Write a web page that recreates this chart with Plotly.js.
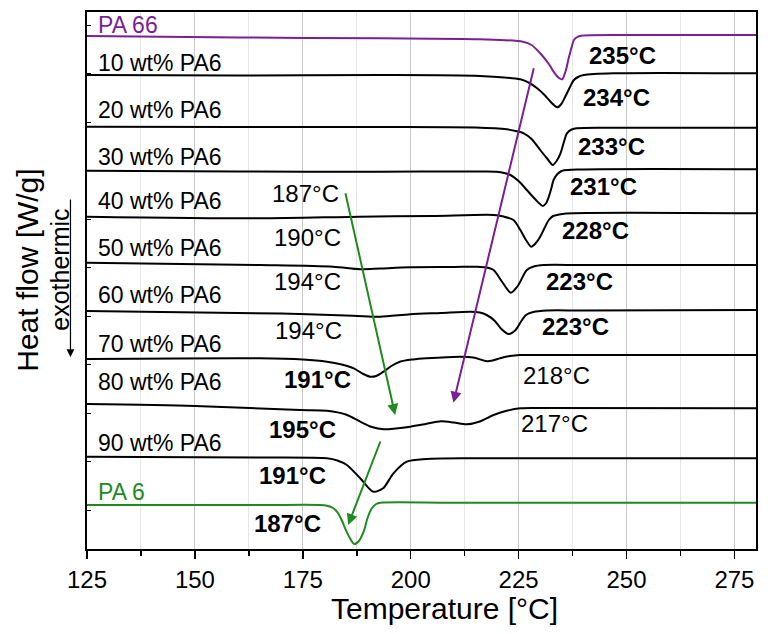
<!DOCTYPE html>
<html>
<head>
<meta charset="utf-8">
<script src="https://cdn.plot.ly/plotly-3.0.1.min.js"></script>
<style>
html, body { margin: 0; padding: 0; background: #fff; }
#dsc { width: 776px; height: 634px; }
</style>
</head>
<body>
<div id="dsc"></div>
<script>
// DSC heating curves, stacked (heat flow in arbitrary shifted units, endo down)
const curveNames = ['PA 66', '10 wt% PA6', '20 wt% PA6', '30 wt% PA6', '40 wt% PA6', '50 wt% PA6',
    '60 wt% PA6', '70 wt% PA6', '80 wt% PA6', '90 wt% PA6', 'PA 6'];

const t66 = [125, 160, 193, 216, 226, 228, 230, 232, 233.1, 234.2, 235.1, 235.9, 236.6, 237.3, 237.8, 238.6, 239.5, 250, 280];
const hf66 = [513, 511.5, 510.7, 509.7, 507.3, 504, 495.7, 485, 477.3, 471.5, 469.7, 478, 490.7, 502, 509, 512, 513.3, 514, 514];

const t10 = [125, 160, 193, 216, 225.4, 227.5, 229.3, 231, 232.4, 233.3, 234.0, 234.9, 235.8, 236.8, 237.8, 239, 240.1, 247, 280];
const hf10 = [474, 473.5, 474, 473, 469.7, 466, 460.7, 454, 447.3, 443.5, 441.7, 445, 452.3, 461, 469, 472.5, 474, 475.7, 475.7];

const t20 = [125, 160, 193, 215, 222.3, 224.3, 226.2, 228, 230, 231.7, 232.9, 233.8, 234.7, 235.5, 236.2, 237.3, 238.5, 245, 280];
const hf20 = [422.3, 422, 422, 421.5, 419.7, 418, 415.7, 410, 399, 390, 384, 388, 395.7, 407, 415.7, 419.5, 420.7, 421.3, 421.3];

const t30 = [125, 160, 193, 215, 220, 221.7, 223.1, 225, 226.9, 228.8, 230.6, 231.4, 232, 232.6, 233.1, 234, 235.1, 240, 280];
const hf30 = [378.3, 377.5, 377.3, 377.5, 377.3, 376, 374, 368, 359, 350, 343, 346, 352.3, 361, 369, 375, 378.3, 379.5, 379.7];

const t40 = [125, 165, 188, 205, 219.2, 221.5, 223.8, 225.4, 226.7, 227.9, 229, 230, 231, 232, 233, 233.9, 236, 280];
const hf40 = [332.3, 330.7, 332.3, 333, 334, 332.5, 329, 319, 309, 302.3, 306, 312.3, 321, 329, 333, 334, 335.5, 335.7];

const t50 = [125, 165, 182, 188.3, 193, 199.9, 210, 215.4, 217.5, 219.2, 221.2, 223.2, 224.8, 226.9, 228.5, 230.8, 240, 280];
const hf50 = [286.3, 284, 282.3, 279.7, 280.5, 281.7, 282, 282.3, 281.5, 279, 267, 256.3, 263, 279, 282.5, 284, 284, 284];

const t60 = [125, 170, 186.7, 192.9, 199.9, 207, 213.8, 216, 217.6, 219.5, 221, 222.7, 224.3, 225.5, 226.7, 228.4, 231.6, 240, 280];
const hf60 = [238, 235.5, 233.3, 232.3, 234.7, 236, 237.3, 236.5, 234, 228, 220, 215, 219, 227, 234, 237, 238.5, 238.5, 239];

const t70 = [125, 165, 175, 180.6, 184, 186.8, 189, 190.6, 192, 193.7, 195.5, 197.5, 200.5, 203.7, 211.4, 214.5, 216.5, 217.7, 219, 220.7, 223, 225.3, 230, 280];
const hf70 = [190, 190.7, 189.5, 187.3, 184.5, 180.7, 175, 172.3, 173, 177.3, 183, 187.3, 189.5, 190.7, 192.3, 191.5, 189, 187.8, 188.5, 190.7, 193, 194, 194, 194];

const t80 = [125, 150, 174.4, 180.6, 185, 188.3, 191, 193.7, 196.5, 199.9, 203.5, 207, 210, 213, 216, 219.2, 222, 225.4, 230, 280];
const hf80 = [145, 143, 139, 138.3, 134.5, 127.3, 122, 119.7, 120.5, 122.3, 125, 127.7, 126.5, 124.7, 127.5, 134, 138, 140.7, 141, 140.7];

const t90 = [125, 165, 180.6, 183, 185.2, 188.3, 191.3, 193.6, 196, 199.1, 203.7, 215, 280];
const hf90 = [92.3, 91.5, 90.7, 88.5, 84, 70.7, 57.3, 60.7, 75.7, 87.3, 90, 90.7, 90.7];

const tPA6 = [125, 165, 179, 180.6, 182, 182.9, 184, 184.8, 185.9, 186.9, 188, 189.1, 190, 191, 192, 193, 210, 280];
const hfPA6 = [44, 44, 44, 43.2, 41, 37.3, 29, 20.7, 11, 5, 8, 17.3, 31, 40.7, 45, 46.3, 46.3, 46.3];

const temps = [t66, t10, t20, t30, t40, t50, t60, t70, t80, t90, tPA6];
const flows = [hf66, hf10, hf20, hf30, hf40, hf50, hf60, hf70, hf80, hf90, hfPA6];

// peak temperature labels
const peakText = ['235°C', '234°C', '233°C', '231°C', '228°C', '223°C', '223°C', '218°C', '217°C',
    '187°C', '190°C', '194°C', '194°C', '191°C', '195°C', '191°C', '187°C'];
const peakBold = [true, true, true, true, true, true, true, false, false,
    false, false, false, false, true, true, true, true];
const peakLabelT = [249.1, 247.6, 246.6, 244.6, 242.7, 239.2, 238.1, 233.7, 233.2,
    175.7, 176.2, 176.1, 176.4, 178.4, 174.9, 172.7, 171.5];
const peakLabelHF = [494, 451.5, 403, 363, 319, 268, 222.5, 174, 126,
    356, 311.5, 267.3, 219, 169.5, 120, 73.5, 25.7];

const nameLabelHF = [524, 485.7, 438.7, 392, 347.7, 301, 253.7, 205.3, 167.3, 105.7, 57.3];

const PURPLE = '#7a1f96';
const GREEN = '#1f8a1f';
const FONT = 'Arial, "Liberation Sans", sans-serif';

function colorOf(i) {
    if (i === 0) return PURPLE;
    if (i === curveNames.length - 1) return GREEN;
    return '#000000';
}

const traces = temps.map((t, i) => ({
    x: t,
    y: flows[i],
    name: curveNames[i],
    mode: 'lines',
    line: { color: colorOf(i), width: 2, shape: 'spline', smoothing: 0.8 },
    hoverinfo: 'skip'
}));

const annotations = [];
curveNames.forEach((name, i) => {
    annotations.push({
        x: 127, y: nameLabelHF[i], xref: 'x', yref: 'y',
        text: name, showarrow: false, xanchor: 'left', yanchor: 'middle',
        font: { family: FONT, size: 23, color: colorOf(i) }
    });
});
peakText.forEach((txt, i) => {
    annotations.push({
        x: peakLabelT[i], y: peakLabelHF[i], xref: 'x', yref: 'y',
        text: peakBold[i] ? '<b>' + txt + '</b>' : txt,
        showarrow: false, xanchor: 'center', yanchor: 'middle',
        font: { family: FONT, size: 24, color: '#000' }
    });
});

// trend arrows (head first, tail in ax/ay)
const arrows = [
    { head: [196.4, 134], tail: [184.8, 357.3], color: GREEN },
    { head: [185.5, 24], tail: [193.1, 109], color: GREEN },
    { head: [209.9, 146.3], tail: [228.6, 482.3], color: PURPLE }
];
arrows.forEach(a => {
    annotations.push({
        x: a.head[0], y: a.head[1], ax: a.tail[0], ay: a.tail[1],
        xref: 'x', yref: 'y', axref: 'x', ayref: 'y',
        text: '', showarrow: true, arrowhead: 2, arrowsize: 1.1, arrowwidth: 2,
        arrowcolor: a.color
    });
});

// axis titles
annotations.push({
    x: -0.0882, y: 0.52, xref: 'paper', yref: 'paper', text: 'Heat flow [W/g]',
    textangle: -90, showarrow: false, xanchor: 'center', yanchor: 'middle',
    font: { family: FONT, size: 30, color: '#000' }
});
annotations.push({
    x: -0.0404, y: 0.52, xref: 'paper', yref: 'paper', text: 'exothermic',
    textangle: -90, showarrow: false, xanchor: 'center', yanchor: 'middle',
    font: { family: FONT, size: 25, color: '#000' }
});
annotations.push({
    x: -0.0247, y: 0.3575, xref: 'paper', yref: 'paper', ax: 0, ay: -159,
    text: '', showarrow: true, arrowhead: 2, arrowsize: 1.3, arrowwidth: 1.2, arrowcolor: '#000'
});
annotations.push({
    x: 0.535, y: -0.11, xref: 'paper', yref: 'paper', text: 'Temperature [°C]',
    showarrow: false, xanchor: 'center', yanchor: 'middle',
    font: { family: FONT, size: 30, color: '#000' }
});

const layout = {
    width: 776,
    height: 634,
    margin: { l: 87, r: 20, t: 12, b: 85 },
    showlegend: false,
    paper_bgcolor: '#fff',
    plot_bgcolor: '#fff',
    font: { family: FONT, color: '#000' },
    xaxis: {
        range: [125, 280],
        tick0: 125,
        dtick: 25,
        ticks: 'outside',
        ticklen: 8,
        tickwidth: 1.5,
        tickcolor: '#000',
        tickfont: { family: FONT, size: 24, color: '#000' },
        showline: true,
        linewidth: 2,
        linecolor: '#000',
        mirror: true,
        showgrid: true,
        gridcolor: '#c8c8c8',
        gridwidth: 1,
        zeroline: false,
        minor: {
            tick0: 125, dtick: 12.5, ticks: 'outside', ticklen: 5, tickwidth: 1.5, tickcolor: '#000',
            showgrid: true, gridcolor: '#e6e6e6', gridwidth: 1
        }
    },
    yaxis: {
        range: [0, 537],
        showticklabels: false,
        ticks: 'inside',
        ticklen: 4,
        tickwidth: 1,
        tickcolor: '#000',
        tick0: 39,
        dtick: 48.5,
        showline: true,
        linewidth: 2,
        linecolor: '#000',
        mirror: true,
        showgrid: false,
        zeroline: false
    },
    annotations: annotations
};

Plotly.newPlot(document.getElementById('dsc'), traces, layout, { staticPlot: true, displayModeBar: false });
</script>
</body>
</html>
